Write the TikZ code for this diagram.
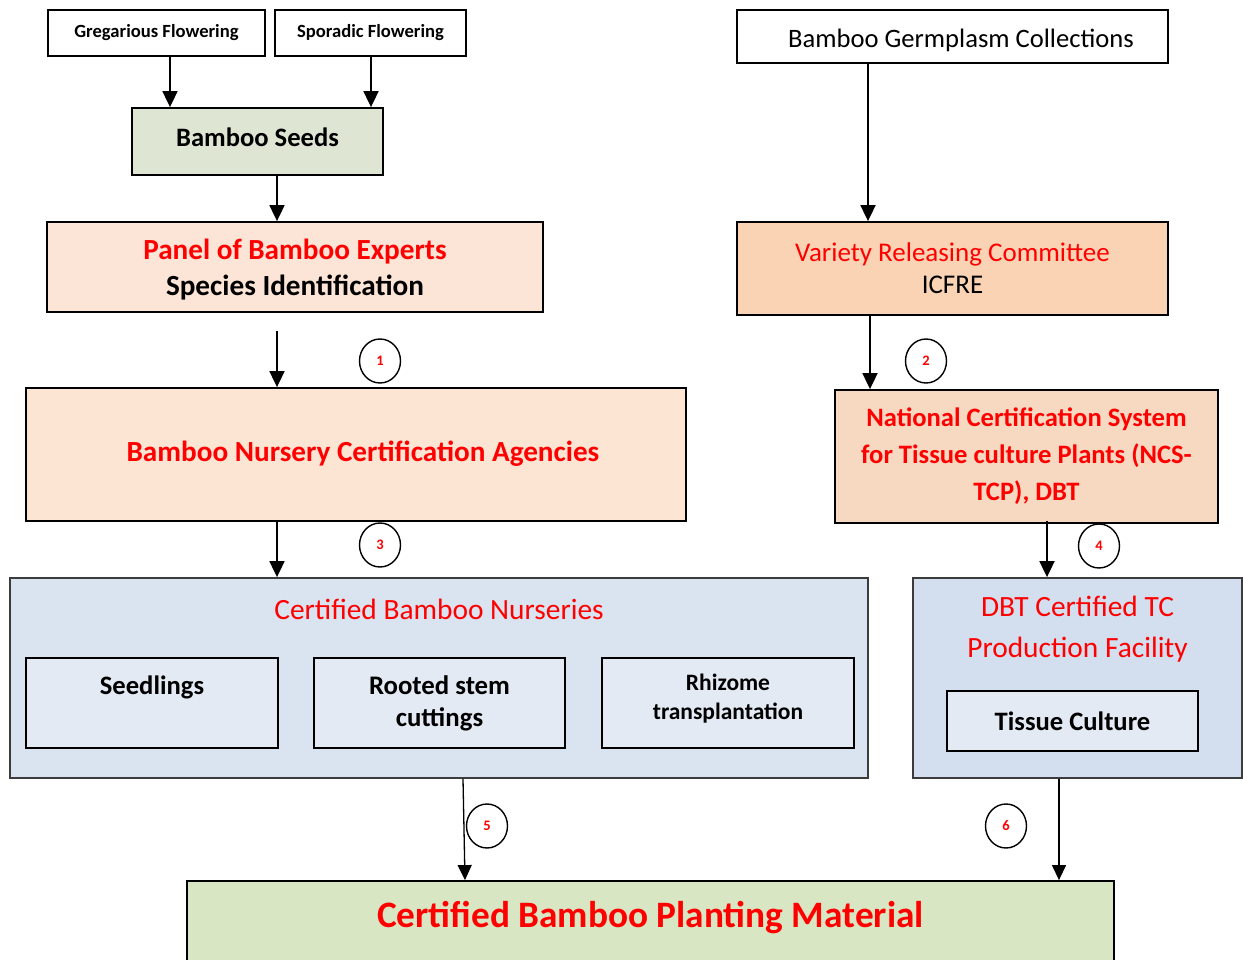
\documentclass[tikz,border=0pt]{standalone}
\usepackage{fontspec}
\setmainfont{Carlito}
\usetikzlibrary{arrows.meta,shapes.geometric}
\definecolor{cred}{RGB}{255,0,0}
\definecolor{seedfill}{RGB}{223,229,211}
\definecolor{panelfill}{RGB}{252,228,214}
\definecolor{varfill}{RGB}{249,211,180}
\definecolor{agfill}{RGB}{253,229,212}
\definecolor{ncsfill}{RGB}{247,217,194}
\definecolor{nurfill}{RGB}{218,227,240}
\definecolor{innerfill}{RGB}{227,234,244}
\definecolor{dbtfill}{RGB}{211,222,238}
\definecolor{plantfill}{RGB}{217,230,195}
\definecolor{grayline}{RGB}{60,60,60}
\tikzset{
  box/.style={draw=black, line width=1.8pt, rectangle, inner sep=0pt, align=center},
  arr/.style={line width=1.8pt, -{Triangle[width=15pt,length=16pt]}},
  thinarr/.style={line width=1.3pt, -{Triangle[width=14pt,length=15pt]}},
  num/.style={draw=black, line width=1.4pt, ellipse, minimum width=41pt, minimum height=44pt, inner sep=0pt, text=cred, font=\bfseries\fontsize{14.5}{16}\selectfont},
  lbl/.style={inner sep=0pt, align=center}
}
\begin{document}
\begin{tikzpicture}[x=1pt,y=-1pt]
\useasboundingbox (0,0) rectangle (1243,960);
% top-left
\node[box, minimum width=217pt, minimum height=46pt, font=\bfseries\fontsize{18.6}{22}\selectfont] (greg) at (156.5,33) {Gregarious Flowering};
\node[box, minimum width=191pt, minimum height=46pt, font=\bfseries\fontsize{18.6}{22}\selectfont] (spor) at (370.5,33) {Sporadic Flowering};
\node[box, fill=seedfill, minimum width=251pt, minimum height=67pt] (seeds) at (257.5,141.5) {};
\node[lbl, font=\bfseries\fontsize{26.6}{30}\selectfont] (seedst) at (257.5,137) {Bamboo Seeds};
\node[box, fill=panelfill, minimum width=496pt, minimum height=90pt] (panel) at (295,267) {};
\node[lbl, font=\bfseries\fontsize{29.2}{36}\selectfont] (panelt) at (295,270) {\textcolor{cred}{Panel of Bamboo Experts}\\Species Identification};
% top-right
\node[box, line width=1.5pt, minimum width=431pt, minimum height=53pt] (germ) at (952.5,36.5) {};
\node[lbl, font=\fontsize{26.6}{30}\selectfont] (germt) at (961,40) {Bamboo Germplasm Collections};
\node[box, fill=varfill, minimum width=431pt, minimum height=93pt, font=\fontsize{27}{32}\selectfont] (var) at (952.5,268.5) {\textcolor{cred}{Variety Releasing Committee}\\ICFRE};
% middle
\node[box, fill=agfill, minimum width=660pt, minimum height=133pt] (ag) at (356,454.5) {};
\node[lbl, text=cred, font=\bfseries\fontsize{29.2}{34}\selectfont] (agt) at (363,454) {Bamboo Nursery Certification Agencies};
\node[box, fill=ncsfill, minimum width=383pt, minimum height=133pt, text=cred, font=\bfseries\fontsize{26.6}{37}\selectfont] (ncs) at (1026.5,456.5) {National Certification System\\for Tissue culture Plants (NCS-\\TCP), DBT};
% nurseries
\node[box, draw=grayline, fill=nurfill, minimum width=858pt, minimum height=200pt] (nur) at (439,678) {};
\node[lbl, text=cred, font=\fontsize{29.4}{34}\selectfont] (nurt) at (439,609) {Certified Bamboo Nurseries};
\node[box, fill=innerfill, minimum width=252pt, minimum height=90pt] (seedl) at (152,703) {};
\node[lbl, font=\bfseries\fontsize{26.6}{30}\selectfont] (seedlt) at (152,687) {Seedlings};
\node[box, fill=innerfill, minimum width=251pt, minimum height=90pt, font=\bfseries\fontsize{26.8}{32}\selectfont] (rooted) at (439.5,703) {Rooted stem\\cuttings};
\node[box, fill=innerfill, minimum width=252pt, minimum height=90pt] (rhiz) at (728,703) {};
\node[lbl, font=\bfseries\fontsize{23.5}{29}\selectfont] (rhizt) at (728,699) {Rhizome\\transplantation};
% dbt
\node[box, draw=grayline, fill=dbtfill, minimum width=329pt, minimum height=200pt] (dbt) at (1077.5,678) {};
\node[lbl, text=cred, font=\fontsize{29.4}{41}\selectfont] (dbtt) at (1077.5,629) {DBT Certified TC\\Production Facility};
\node[box, fill=innerfill, minimum width=251pt, minimum height=60pt, font=\bfseries\fontsize{26.6}{30}\selectfont] (tissue) at (1072.5,721) {Tissue Culture};
% bottom
\node[box, fill=plantfill, minimum width=927pt, minimum height=90pt] (plant) at (650.5,926) {};
\node[lbl, text=cred, font=\bfseries\fontsize{37.3}{42}\selectfont] (plantt) at (650.5,918) {Certified Bamboo Planting Material};
% circles
\node[num] (n1) at (380,361) {1};
\node[num] (n2) at (926,361) {2};
\node[num] (n3) at (380,545) {3};
\node[num] (n4) at (1099,546) {4};
\node[num] (n5) at (487,826) {5};
\node[num] (n6) at (1006,826) {6};
% arrows
\draw[arr] ([xshift=13.5pt]greg.south) -- ([xshift=13.5pt]greg.south |- seeds.north);
\draw[arr] ([xshift=0.5pt]spor.south) -- ([xshift=0.5pt]spor.south |- seeds.north);
\draw[arr] ([xshift=19.5pt]seeds.south) -- ([xshift=19.5pt]seeds.south |- panel.north);
\coordinate (p1) at (277,331);
\draw[arr] (p1) -- (p1 |- ag.north);
\draw[arr] ([xshift=-84.5pt]germ.south) -- ([xshift=-84.5pt]germ.south |- var.north);
\draw[arr] ([xshift=-82.5pt]var.south) -- ([xshift=-82.5pt]var.south |- ncs.north);
\draw[arr] ([xshift=-79pt]ag.south) -- ([xshift=-79pt]ag.south |- nur.north);
\draw[arr] ([xshift=20.5pt,yshift=3pt]ncs.south) -- ([xshift=20.5pt]ncs.south |- dbt.north);
\draw[thinarr] ([xshift=24pt]nur.south) -- ([xshift=26pt]nur.south |- plant.north);
\draw[thinarr] ([xshift=-18.5pt]dbt.south) -- ([xshift=-18.5pt]dbt.south |- plant.north);
\end{tikzpicture}
\end{document}
